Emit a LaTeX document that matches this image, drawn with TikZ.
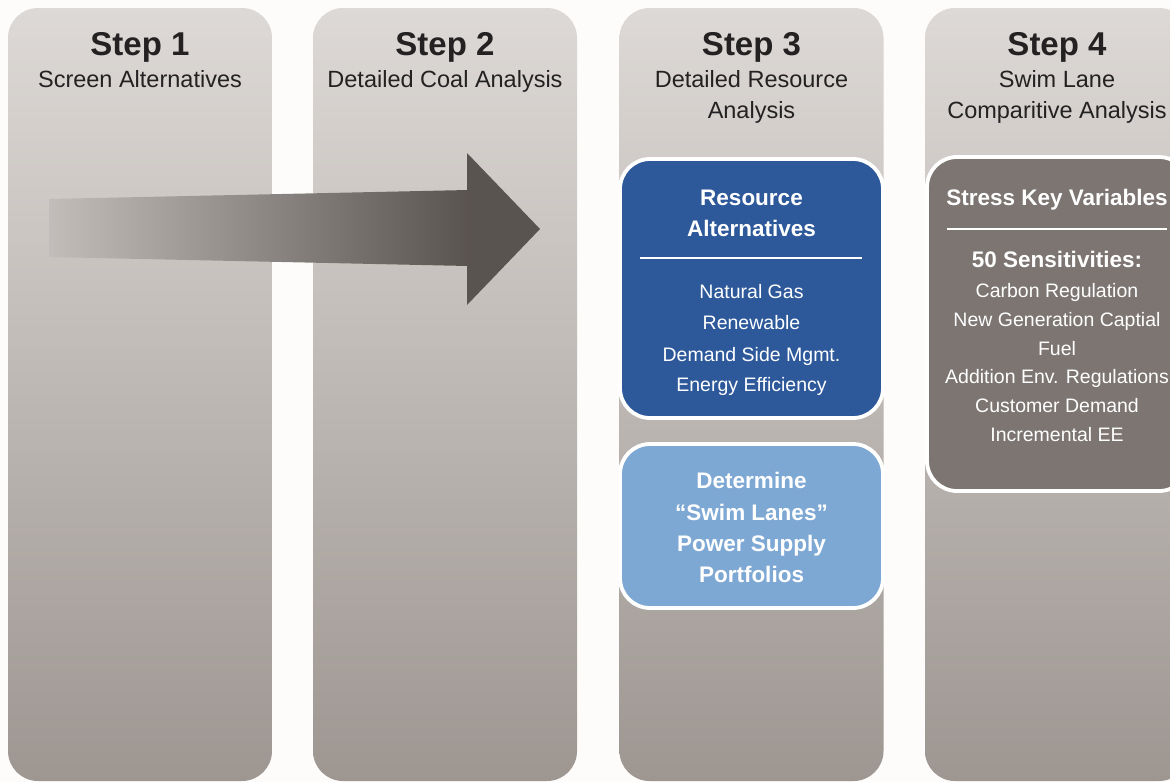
\documentclass[tikz,border=0pt]{standalone}
\usepackage{fontspec}
\setmainfont{Liberation Sans}
\definecolor{bgC}{RGB}{253,252,250}
\definecolor{colTop}{RGB}{221,217,214}
\definecolor{colBot}{RGB}{157,150,145}
\definecolor{arrL}{RGB}{194,188,186}
\definecolor{headC}{RGB}{90,84,81}
\definecolor{blueA}{RGB}{45,89,155}
\definecolor{blueB}{RGB}{126,168,212}
\definecolor{grayC}{RGB}{124,117,114}
\definecolor{titleC}{RGB}{35,33,33}
\begin{document}
\begin{tikzpicture}[x=1pt,y=-1pt,
  lane/.style={rounded corners=30pt, minimum width=264pt, minimum height=773pt, inner sep=0pt, top color=colTop, bottom color=colBot},
  card/.style={rounded corners=30pt, draw=white, line width=3.8pt, inner sep=0pt},
  steptitle/.style={anchor=base, font=\fontsize{33}{36}\selectfont\bfseries, text=titleC, inner sep=0pt},
  stepsub/.style={anchor=base, font=\fontsize{23.5}{26}\selectfont, text=titleC, inner sep=0pt},
  cardhead/.style={anchor=base, font=\fontsize{22.5}{25}\selectfont\bfseries, text=white, inner sep=0pt},
  carditem/.style={anchor=base, font=\fontsize{19.5}{22}\selectfont, text=white, inner sep=0pt},
  sepline/.style={draw=white, line width=1.6pt}]
\useasboundingbox (0,0) rectangle (1170,782);
\fill[bgC] (0,0) rectangle (1170,782);
\begin{scope}
\clip (0,0) rectangle (1170,782);
% lanes
\node[lane] (lane1) at (140,394.5) {};
\node[lane] (lane2) at (445,394.5) {};
\node[lane] (lane3) at (751.5,394.5) {};
\node[lane] (lane4) at (1057,394.5) {};
% titles
\node[steptitle] (s1) at (140,55) {Step 1};
\node[stepsub] (s1a) at (140,87) {Screen Alternatives};
\node[steptitle] (s2) at (445,55) {Step 2};
\node[stepsub] (s2a) at (445,87) {Detailed Coal Analysis};
\node[steptitle] (s3) at (751.5,55) {Step 3};
\node[stepsub] (s3a) at (751.5,87) {Detailed Resource};
\node[stepsub] (s3b) at (751.5,118) {Analysis};
\node[steptitle] (s4) at (1057,55) {Step 4};
\node[stepsub] (s4a) at (1057,87) {Swim Lane};
\node[stepsub] (s4b) at (1057,118) {Comparitive Analysis};
% big arrow
\shade[left color=arrL, right color=headC] (49,199) -- (468,190) -- (468,266) -- (49,257) -- cycle;
\fill[headC] (467,153) -- (540,229) -- (467,305) -- cycle;
% cards
\node[card, fill=blueA, minimum width=263pt, minimum height=259pt] (ra) at (751.5,288.5) {};
\node[card, fill=blueB, minimum width=263pt, minimum height=164pt] (sl) at (751.5,526) {};
\node[card, fill=grayC, minimum width=262pt, minimum height=334pt] (sk) at (1058,324) {};
% resource alternatives
\node[cardhead] (ra1) at (751.5,205) {Resource};
\node[cardhead] (ra2) at (751.5,236) {Alternatives};
\draw[sepline] (640,258) -- (862,258);
\node[carditem] (ra3) at (751.5,298) {Natural Gas};
\node[carditem] (ra4) at (751.5,329) {Renewable};
\node[carditem] (ra5) at (751.5,361) {Demand Side Mgmt.};
\node[carditem] (ra6) at (751.5,391) {Energy Efficiency};
% swim lanes
\node[cardhead] (sl1) at (751.5,488) {Determine};
\node[cardhead] (sl2) at (751.5,520) {“Swim Lanes”};
\node[cardhead] (sl3) at (751.5,551) {Power Supply};
\node[cardhead] (sl4) at (751.5,582) {Portfolios};
% stress key variables
\node[cardhead] (sk1) at (1057,205) {Stress Key Variables};
\draw[sepline] (947,229) -- (1167,229);
\node[cardhead] (sk2) at (1057,267) {50 Sensitivities:};
\node[carditem] (sk3) at (1057,297) {Carbon Regulation};
\node[carditem] (sk4) at (1057,326) {New Generation Captial};
\node[carditem] (sk5) at (1057,355) {Fuel};
\node[carditem] (sk6) at (1057,383) {Addition Env. Regulations};
\node[carditem] (sk7) at (1057,412) {Customer Demand};
\node[carditem] (sk8) at (1057,441) {Incremental EE};
\end{scope}
\end{tikzpicture}
\end{document}
